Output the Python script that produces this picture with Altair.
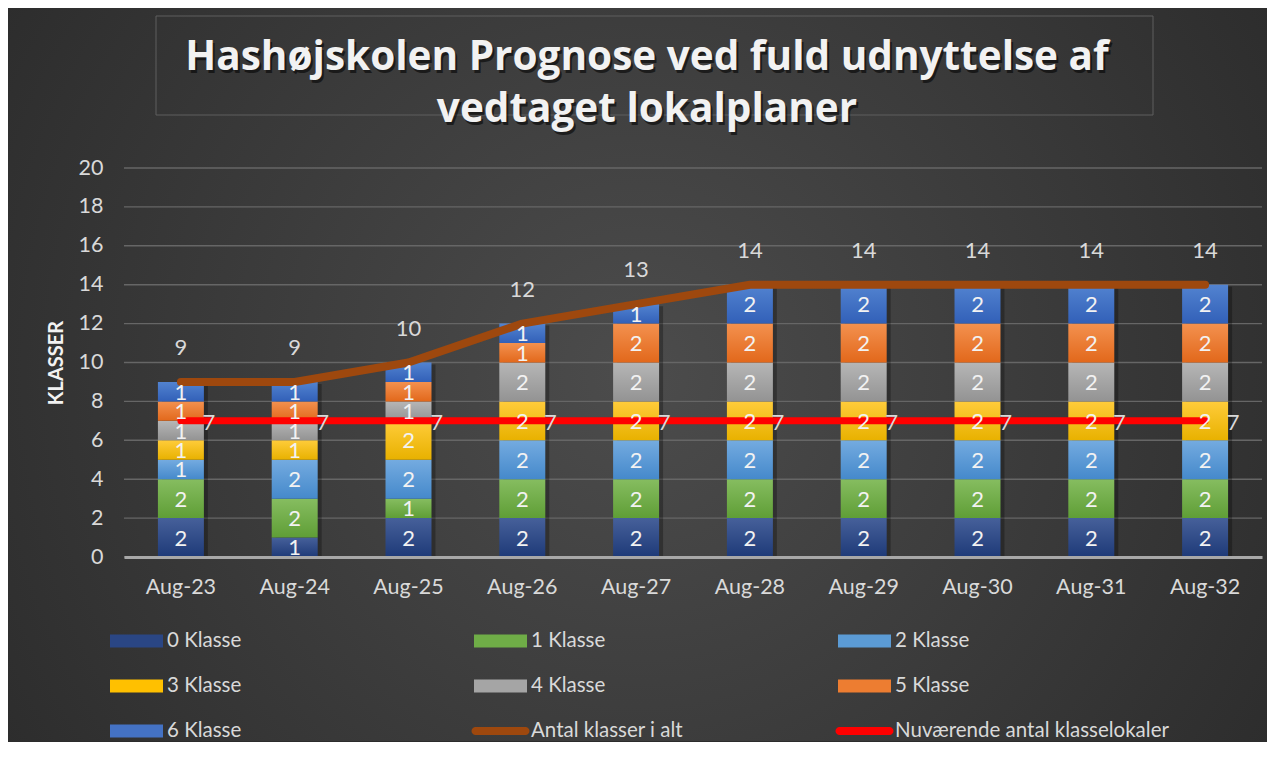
import altair as alt
import pandas as pd

# ---------------- data ----------------
categories = ["Aug-23", "Aug-24", "Aug-25", "Aug-26", "Aug-27",
              "Aug-28", "Aug-29", "Aug-30", "Aug-31", "Aug-32"]
series_names = ["0 Klasse", "1 Klasse", "2 Klasse", "3 Klasse",
                "4 Klasse", "5 Klasse", "6 Klasse"]
klasse_0 = [2, 1, 2, 2, 2, 2, 2, 2, 2, 2]
klasse_1 = [2, 2, 1, 2, 2, 2, 2, 2, 2, 2]
klasse_2 = [1, 2, 2, 2, 2, 2, 2, 2, 2, 2]
klasse_3 = [1, 1, 2, 2, 2, 2, 2, 2, 2, 2]
klasse_4 = [1, 1, 1, 2, 2, 2, 2, 2, 2, 2]
klasse_5 = [1, 1, 1, 1, 2, 2, 2, 2, 2, 2]
klasse_6 = [1, 1, 1, 1, 1, 2, 2, 2, 2, 2]
antal_i_alt = [9, 9, 10, 12, 13, 14, 14, 14, 14, 14]
nuvaerende_lokaler = [7, 7, 7, 7, 7, 7, 7, 7, 7, 7]
line_names = ["Antal klasser i alt", "Nuværende antal klasselokaler"]
title_lines = ["Hashøjskolen Prognose ved fuld udnyttelse af", "vedtaget lokalplaner"]
y_title = "KLASSER"
y_ticks = [0, 2, 4, 6, 8, 10, 12, 14, 16, 18, 20]

# ---------------- style ----------------
W, H = 1138, 389
FONT = "Lato"
TFONT = "Open Sans"
TXT = "#d9d9d9"
bar_grad = {
    "0 Klasse": ("#46609a", "#1e3a78"),
    "1 Klasse": ("#86bd60", "#5f9e36"),
    "2 Klasse": ("#74abe0", "#4589cb"),
    "3 Klasse": ("#ffcc3a", "#e8b100"),
    "4 Klasse": ("#b6b6b6", "#939393"),
    "5 Klasse": ("#f3914f", "#e2681b"),
    "6 Klasse": ("#5283d0", "#3260b8"),
}
solid = {
    "0 Klasse": "#2a4684", "1 Klasse": "#6fad47", "2 Klasse": "#5b9bd5",
    "3 Klasse": "#ffc000", "4 Klasse": "#a5a5a5", "5 Klasse": "#ed7d31",
    "6 Klasse": "#4472c4", "Antal klasser i alt": "#9e480e",
    "Nuværende antal klasselokaler": "#ff0000",
}

# ---------------- tables ----------------
all_series = [klasse_0, klasse_1, klasse_2, klasse_3, klasse_4, klasse_5, klasse_6]
rows = []
for si, (name, vals) in enumerate(zip(series_names, all_series)):
    for cat, v in zip(categories, vals):
        rows.append({"cat": cat, "series": name, "idx": si, "value": v})
bars_df = pd.DataFrame(rows)
lines_df = pd.DataFrame({"cat": categories, "total": antal_i_alt, "lok": nuvaerende_lokaler})
grid_df = pd.DataFrame({"tick": y_ticks})
legend_labels = series_names + line_names
legend_df = pd.DataFrame({
    "label": legend_labels,
    "kind": ["bar"] * len(series_names) + ["line"] * len(line_names),
})
legend_df["col"] = [i % 3 for i in range(len(legend_df))]
legend_df["row"] = [i // 3 for i in range(len(legend_df))]
one = pd.DataFrame({"a": [0]})

xscale = alt.Scale(domain=categories, paddingInner=0.596, paddingOuter=0.298)
yscale = alt.Scale(domain=[0, 20], nice=False, zero=True)


def grad(top, bottom):
    return alt.Gradient(gradient="linear", x1=0, y1=0, x2=0, y2=1,
                        stops=[alt.GradientStop(color=top, offset=0),
                               alt.GradientStop(color=bottom, offset=1)])


X_ENC = dict(field="cat", type="nominal", scale=xscale, sort=categories)

# background
bg = alt.Chart(one).mark_rect(
    fill=alt.Gradient(gradient="radial", x1=0.5, y1=0.5, r1=0, x2=0.5, y2=0.5, r2=0.75,
                      stops=[alt.GradientStop(color="#4c4c4c", offset=0),
                             alt.GradientStop(color="#242424", offset=1)])
).encode(x=alt.value(-116), x2=alt.value(W + 5), y=alt.value(-160), y2=alt.value(H + 184))

title_box = alt.Chart(one).mark_rect(fillOpacity=0, stroke="#5e5e5e", strokeWidth=1).encode(
    x=alt.value(32), x2=alt.value(1029), y=alt.value(-152), y2=alt.value(-53))

title_layers = []
for i, line in enumerate(title_lines):
    ty = -110 + 52 * i
    title_layers.append(alt.Chart(one).mark_text(
        text=line, font=TFONT, fontSize=40.5, fontWeight="bold", color="#000000", opacity=0.55,
        align="center", baseline="middle").encode(x=alt.value(525), y=alt.value(ty + 3)))
    title_layers.append(alt.Chart(one).mark_text(
        text=line, font=TFONT, fontSize=40.5, fontWeight="bold", color="#f2f2f2",
        align="center", baseline="middle").encode(x=alt.value(523), y=alt.value(ty)))

x_axis = alt.Axis(title=None, labelColor=TXT, labelFontSize=21.5, labelFont=FONT,
                  labelPadding=19, ticks=False, domainColor="#a8a8a8",
                  domainWidth=3, labelAngle=0, grid=False, zindex=1)
y_axis = alt.Axis(values=y_ticks, title=y_title, titleColor="#f2f2f2", titleFont=FONT,
                  titleFontSize=20, titleFontWeight="bold", titlePadding=12,
                  labelColor=TXT, labelFontSize=21.5, labelFont=FONT, labelPadding=21,
                  ticks=False, domain=False, grid=False, zindex=1)

gridlines = alt.Chart(grid_df).mark_rule(color="#666666", strokeWidth=1.4).encode(
    y=alt.Y("tick:Q", scale=yscale, axis=y_axis), x=alt.value(0), x2=alt.value(W))

base_bars = alt.Chart(bars_df).transform_window(
    cum="sum(value)", groupby=["cat"], sort=[alt.SortField("idx")], frame=[None, 0]
).transform_calculate(y0="datum.cum - datum.value", mid="datum.cum - datum.value / 2")

# shadows behind bars
shadow = alt.Chart(lines_df).mark_bar(color="#000000", opacity=0.28, xOffset=4, yOffset=2).encode(
    x=alt.X(**X_ENC, axis=x_axis),
    y=alt.Y("total:Q", scale=yscale, axis=y_axis),
)

bar_layers = []
for name in series_names:
    top, bottom = bar_grad[name]
    bar_layers.append(base_bars.transform_filter(alt.datum.series == name).mark_bar(
        fill=grad(top, bottom)).encode(
        x=alt.X(**X_ENC, axis=x_axis),
        y=alt.Y("y0:Q", scale=yscale, axis=y_axis),
        y2="cum:Q",
    ))

red_line = alt.Chart(lines_df).mark_line(color=solid[line_names[1]], strokeWidth=7,
                                         strokeCap="round").encode(
    x=alt.X(**X_ENC, axis=x_axis), y=alt.Y("lok:Q", scale=yscale, axis=y_axis))
brown_line = alt.Chart(lines_df).mark_line(color=solid[line_names[0]], strokeWidth=8,
                                           strokeCap="round", strokeJoin="round").encode(
    x=alt.X(**X_ENC, axis=x_axis), y=alt.Y("total:Q", scale=yscale, axis=y_axis))

seg_labels = base_bars.mark_text(font=FONT, fontSize=22, color="#f2f2f2", baseline="middle",
                                 dy=1).encode(
    x=alt.X(**X_ENC, axis=x_axis), y=alt.Y("mid:Q", scale=yscale, axis=y_axis),
    text="value:Q")
total_labels = alt.Chart(lines_df).mark_text(font=FONT, fontSize=22, color=TXT,
                                             baseline="middle", dy=-34).encode(
    x=alt.X(**X_ENC, axis=x_axis), y=alt.Y("total:Q", scale=yscale, axis=y_axis),
    text="total:Q")
lok_labels = alt.Chart(lines_df).mark_text(font=FONT, fontSize=22, color=TXT, baseline="middle",
                                           dx=28, dy=2).encode(
    x=alt.X(**X_ENC, axis=x_axis), y=alt.Y("lok:Q", scale=yscale, axis=y_axis),
    text="lok:Q")

main = alt.layer(bg, title_box, *title_layers, gridlines, shadow, *bar_layers, red_line,
                 brown_line, seg_labels, total_labels, lok_labels)

# legend drawn as marks
RECT_PATH = "M-1,-0.245H1V0.245H-1Z"
LINE_PATH = ("M-0.862,-0.138H0.862A0.138,0.138 0 0 1 0.862,0.138"
             "H-0.862A0.138,0.138 0 0 1 -0.862,-0.138Z")
lx = alt.X("col:Q", scale=alt.Scale(domain=[0, 2], range=[12.5, 740.5], nice=False, zero=False),
           axis=None)
ly = alt.Y("row:Q", scale=alt.Scale(domain=[0, 2], range=[H + 84, H + 174], nice=False,
                                    zero=False), axis=None)
lcolor = alt.Color("label:N", scale=alt.Scale(domain=legend_labels,
                                              range=[solid[n] for n in legend_labels]),
                   legend=None)
leg_rect = alt.Chart(legend_df).transform_filter(alt.datum.kind == "bar").mark_point(
    shape=RECT_PATH, size=2809, filled=True, opacity=1, strokeWidth=0).encode(
    x=lx, y=ly, color=lcolor)
leg_line = alt.Chart(legend_df).transform_filter(alt.datum.kind == "line").mark_point(
    shape=LINE_PATH, size=3364, filled=True, opacity=1, strokeWidth=0).encode(
    x=lx, y=ly, color=lcolor)
leg_text = alt.Chart(legend_df).mark_text(font=FONT, fontSize=20.5, color=TXT, align="left",
                                          baseline="middle", dx=30.5).encode(
    x=lx, y=ly, text="label:N")
legend_layer = alt.layer(leg_rect, leg_line, leg_text)

chart = alt.layer(main, legend_layer).resolve_scale(
    x="independent", y="independent", color="independent"
).resolve_axis(x="independent", y="independent").properties(
    width=W, height=H, padding=0, background="#2c2c2c").configure_view(stroke=None)

chart.save("out.html", embed_options={"renderer": "svg", "actions": False})
